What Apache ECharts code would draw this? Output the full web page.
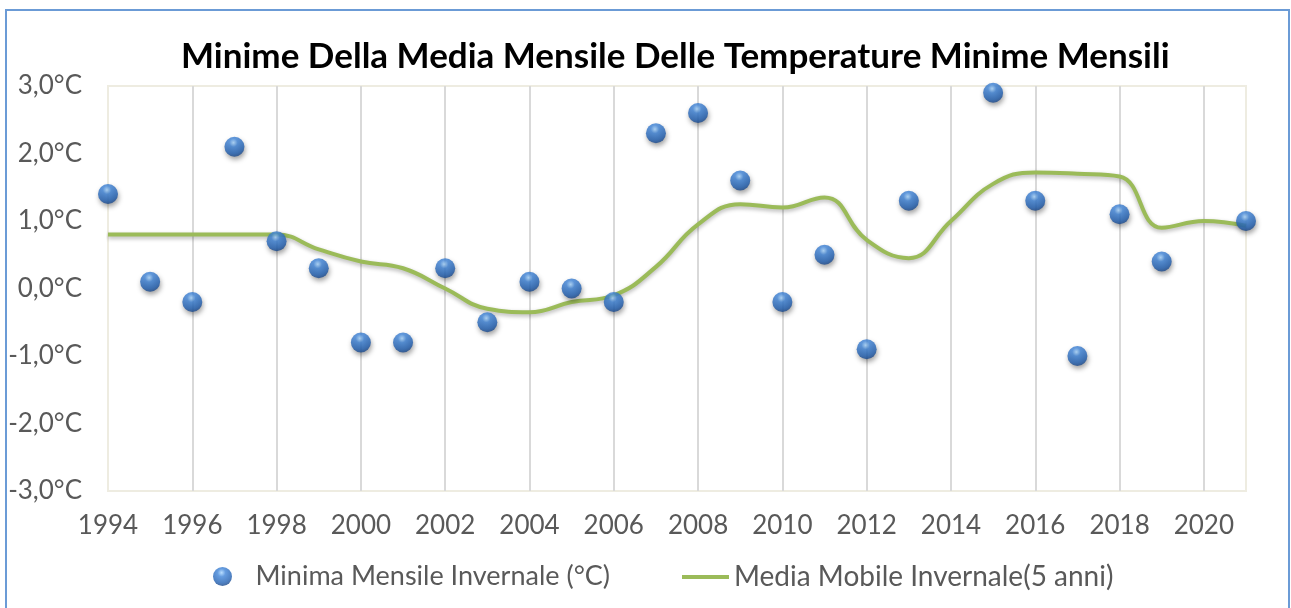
<!DOCTYPE html>
<html>
<head>
<meta charset="utf-8">
<script src="https://cdn.jsdelivr.net/npm/echarts@6/dist/echarts.min.js"></script>
<style>
html,body{margin:0;padding:0;background:#fff;}
#chart{width:1291px;height:608px;}
</style>
</head>
<body>
<div id="chart"></div>
<script>
// Data
var years = [1994,1995,1996,1997,1998,1999,2000,2001,2002,2003,2004,2005,2006,2007,2008,2009,2010,2011,2012,2013,2014,2015,2016,2017,2018,2019,2020,2021];
var minimaInvernale = [1.4,0.1,-0.2,2.1,0.7,0.3,-0.8,-0.8,0.3,-0.5,0.1,0.0,-0.2,2.3,2.6,1.6,-0.2,0.5,-0.9,1.3,null,2.9,1.3,-1.0,1.1,0.4,null,1.0];
var mediaMobile = [0.8,0.8,0.8,0.8,0.8,0.58,0.4,0.3,0.0,-0.3,-0.35,-0.2,-0.1,0.32,0.95,1.25,1.2,1.35,0.72,0.45,1.0,1.55,1.72,1.7,1.66,0.9,1.0,0.93];
var titleText = 'Minime Della Media Mensile Delle Temperature Minime Mensili';
var seriesNames = ['Minima Mensile Invernale (°C)', 'Media Mobile Invernale(5 anni)'];

var scatterData = [];
var lineData = [];
for (var i = 0; i < years.length; i++) {
  if (minimaInvernale[i] !== null) scatterData.push([years[i], minimaInvernale[i]]);
  lineData.push([years[i], mediaMobile[i]]);
}

var font = 'Lato, "Open Sans", sans-serif';
var chart = echarts.init(document.getElementById('chart'), null, {renderer: 'canvas'});
chart.setOption({
  animation: false,
  backgroundColor: '#ffffff',
  title: {
    text: titleText,
    left: 176,
    top: 34,
    textStyle: {fontFamily: font, fontSize: 35, fontWeight: 'bold', color: '#000000'}
  },
  graphic: [{
    type: 'rect',
    shape: {x: 6, y: 10, width: 1283, height: 640},
    style: {fill: null, stroke: '#6b9bd6', lineWidth: 2},
    silent: true
  }],
  grid: {
    left: 108, right: 45, top: 86, bottom: 117,
    show: true, borderColor: '#eeece1', borderWidth: 2, backgroundColor: 'transparent'
  },
  legend: [{
    data: [seriesNames[0]],
    left: 208, top: 558,
    icon: 'circle',
    symbolKeepAspect: true,
    itemWidth: 56, itemHeight: 19,
    textStyle: {fontFamily: font, fontSize: 27, color: '#595959'}
  }, {
    data: [{name: seriesNames[1], icon: 'rect'}],
    left: 677, top: 558,
    itemWidth: 47, itemHeight: 4,
    textStyle: {fontFamily: font, fontSize: 28, color: '#595959'}
  }],
  xAxis: {
    type: 'value',
    min: 1994, max: 2021, interval: 2,
    axisLine: {show: false},
    axisTick: {show: false},
    axisLabel: {
      showMaxLabel: false,
      margin: 22,
      fontFamily: font, fontSize: 26, color: '#595959',
      formatter: function (v) { return String(v); }
    },
    splitLine: {show: true, showMinLine: false, showMaxLine: false, lineStyle: {color: '#d9d9d9', width: 2}}
  },
  yAxis: {
    type: 'value',
    min: -3, max: 3, interval: 1,
    axisLine: {show: false},
    axisTick: {show: false},
    splitLine: {show: false},
    axisLabel: {
      margin: 26,
      fontFamily: font, fontSize: 26, color: '#595959',
      formatter: function (v) { return v.toFixed(1).replace('.', ',') + '°C'; }
    }
  },
  series: [{
    name: seriesNames[1],
    type: 'line',
    data: lineData,
    smooth: 0.45,
    symbol: 'none',
    showSymbol: false,
    z: 2,
    lineStyle: {color: '#9bbb59', width: 4, shadowColor: 'rgba(0,0,0,0.3)', shadowBlur: 4, shadowOffsetY: 2},
    itemStyle: {color: '#9bbb59'}
  }, {
    name: seriesNames[0],
    type: 'scatter',
    data: scatterData,
    symbol: 'circle',
    symbolSize: 20,
    z: 3,
    itemStyle: {
      color: {
        type: 'radial', x: 0.45, y: 0.3, r: 0.75,
        colorStops: [
          {offset: 0, color: '#a8d6ff'},
          {offset: 0.28, color: '#3f84d8'},
          {offset: 0.72, color: '#2261b3'},
          {offset: 1, color: '#173f7c'}
        ]
      },
      shadowColor: 'rgba(0,0,0,0.45)',
      shadowBlur: 5,
      shadowOffsetY: 3,
      shadowOffsetX: 1
    }
  }]
});
</script>
</body>
</html>
